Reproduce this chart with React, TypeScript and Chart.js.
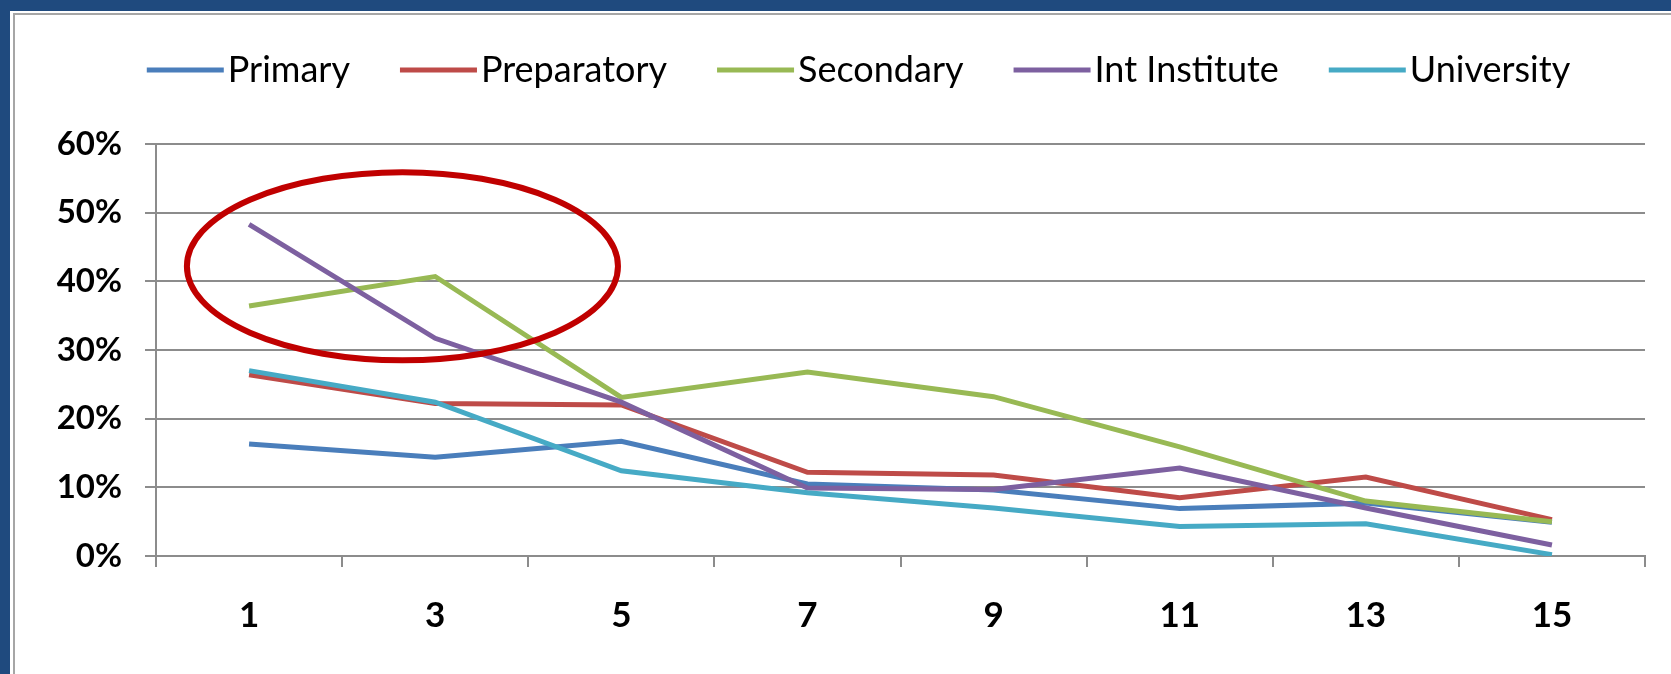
import React, { useEffect, useRef } from 'react';
import { Chart, registerables } from 'chart.js';

Chart.register(...registerables);

// ---- data ----
const categories = ['1', '3', '5', '7', '9', '11', '13', '15'];
const seriesNames = ['Primary', 'Preparatory', 'Secondary', 'Int Institute', 'University'];
const primary = [16.3, 14.4, 16.7, 10.5, 9.6, 6.9, 7.7, 4.9];
const preparatory = [26.4, 22.2, 22.0, 12.2, 11.8, 8.5, 11.5, 5.3];
const secondary = [36.4, 40.7, 23.1, 26.8, 23.2, 15.9, 8.0, 5.0];
const intInstitute = [48.3, 31.7, 22.4, 9.9, 9.7, 12.8, 7.0, 1.6];
const university = [27.0, 22.4, 12.4, 9.2, 7.0, 4.3, 4.7, 0.2];
const seriesValues = [primary, preparatory, secondary, intInstitute, university];
const seriesColors = ['#4A7EBB', '#BE4B48', '#98B954', '#7D60A0', '#46AAC5'];
const yMin = 0;
const yMax = 60;
const yStep = 10;

// highlight ellipse (in data units: category index / percent)
const ellipseCenterIndex = 0.824;
const ellipseCenterValue = 42.2;
const ellipseRadiusIndex = 1.158;
const ellipseRadiusValue = 13.7;

const FONT = 'Lato, "Open Sans", "DejaVu Sans", sans-serif';

const legendPlugin = {
  id: 'customLegend',
  afterDraw(chart: any) {
    const ctx = chart.ctx;
    const sample = 77;
    const gapText = 4;
    const gapItem = 50;
    ctx.save();
    ctx.font = `36px ${FONT}`;
    const items = chart.data.datasets.map((ds: any) => ({
      label: ds.label,
      color: ds.borderColor,
      w: sample + gapText + ctx.measureText(ds.label).width,
    }));
    const total = items.reduce((s: number, it: any) => s + it.w, 0) + gapItem * (items.length - 1);
    const center = (chart.chartArea.left + chart.chartArea.right) / 2 - 42;
    let x = center - total / 2;
    const yc = 70;
    for (const it of items) {
      ctx.fillStyle = it.color;
      ctx.fillRect(x, yc - 2.5, sample, 5);
      ctx.fillStyle = '#000';
      ctx.textBaseline = 'middle';
      ctx.textAlign = 'left';
      ctx.fillText(it.label, x + sample + gapText, yc);
      x += it.w + gapItem;
    }
    ctx.restore();
  },
};

const ellipsePlugin = {
  id: 'highlightEllipse',
  afterDatasetsDraw(chart: any) {
    const { ctx, scales } = chart;
    const xs = scales.x;
    const ys = scales.y;
    const cx = xs.getPixelForValue(ellipseCenterIndex);
    const cy = ys.getPixelForValue(ellipseCenterValue);
    const rx = Math.abs(xs.getPixelForValue(ellipseCenterIndex + ellipseRadiusIndex) - cx);
    const ry = Math.abs(ys.getPixelForValue(ellipseCenterValue + ellipseRadiusValue) - cy);
    ctx.save();
    ctx.beginPath();
    ctx.ellipse(cx, cy, rx, ry, 0, 0, Math.PI * 2);
    ctx.strokeStyle = '#C00000';
    ctx.lineWidth = 6;
    ctx.stroke();
    ctx.restore();
  },
};

export default function App() {
  const ref = useRef<HTMLCanvasElement>(null);

  useEffect(() => {
    if (!ref.current) return;
    const chart = new Chart(ref.current, {
      type: 'line',
      data: {
        labels: categories,
        datasets: seriesNames.map((name, i) => ({
          label: name,
          data: seriesValues[i],
          borderColor: seriesColors[i],
          backgroundColor: seriesColors[i],
          borderWidth: 5,
          pointRadius: 0,
          tension: 0,
          fill: false,
          order: seriesNames.length - i,
        })),
      },
      options: {
        responsive: false,
        animation: false,
        layout: { padding: { top: 144, right: 26, left: 0, bottom: 0 } },
        plugins: {
          legend: { display: false },
          tooltip: { enabled: false },
        },
        scales: {
          x: {
            offset: true,
            afterFit: (s: any) => {
              s.height = 118;
            },
            grid: {
              offset: true,
              drawOnChartArea: false,
              drawTicks: true,
              tickLength: 11,
              color: '#8c8c8c',
              lineWidth: 2,
            },
            border: { display: true, color: '#8c8c8c', width: 2 },
            ticks: {
              color: '#000',
              padding: 28,
              maxRotation: 0,
              autoSkip: false,
              font: { family: FONT, size: 35, weight: 'bold' },
            },
          },
          y: {
            min: yMin,
            max: yMax,
            afterFit: (s: any) => {
              s.width = 156;
            },
            grid: {
              color: '#8c8c8c',
              lineWidth: 2,
              tickLength: 11,
            },
            border: { display: true, color: '#8c8c8c', width: 2 },
            ticks: {
              stepSize: yStep,
              color: '#000',
              padding: 23,
              font: { family: FONT, size: 33, weight: 'bold' },
              callback: (v: any) => `${v}%`,
            },
          },
        },
      },
      plugins: [ellipsePlugin, legendPlugin],
    });
    return () => chart.destroy();
  }, []);

  return (
    <div
      style={{
        position: 'fixed',
        left: 0,
        top: 0,
        width: 1671,
        height: 674,
        background: '#1F4A7E',
        overflow: 'hidden',
      }}
    >
      <div
        style={{
          position: 'absolute',
          left: 10,
          top: 11,
          right: 0,
          bottom: 0,
          background: '#ffffff',
        }}
      />
      <div
        style={{
          position: 'absolute',
          left: 13,
          top: 13,
          right: -10,
          bottom: -10,
          borderTop: '2px solid #a6a6a6',
          borderLeft: '2px solid #a6a6a6',
        }}
      />
      <canvas
        ref={ref}
        width={1671}
        height={674}
        style={{ position: 'absolute', left: 0, top: 0, width: 1671, height: 674 }}
      />
    </div>
  );
}
